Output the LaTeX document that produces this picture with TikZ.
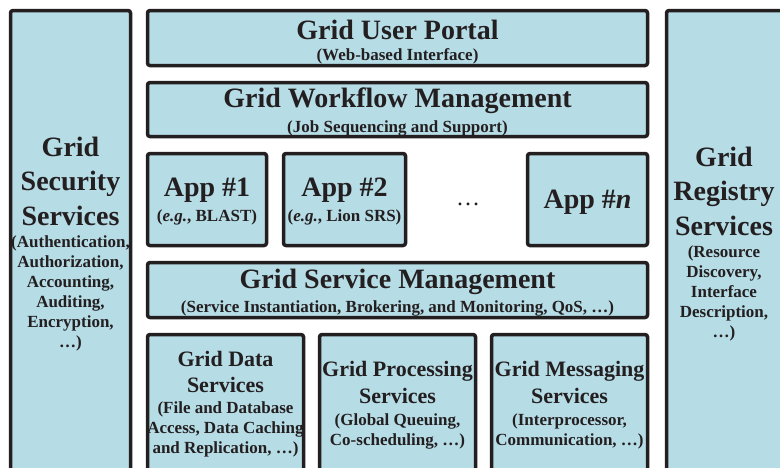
\documentclass[tikz,border=0pt]{standalone}
\usepackage{fontspec}
\setmainfont{Liberation Serif}
\definecolor{boxfill}{HTML}{B6DCE6}
\definecolor{ink}{HTML}{231F20}
\begin{document}
\begin{tikzpicture}[x=1pt,y=-1pt,
  layer/.style={draw=ink, fill=boxfill, line width=3.5pt, rounded corners=2.5pt,
                inner sep=0pt, rectangle},
  bigtitle/.style={text=ink, align=center, inner sep=0pt,
                   font=\bfseries\fontsize{28}{34.5}\selectfont},
  midtitle/.style={text=ink, align=center, inner sep=0pt,
                   font=\bfseries\fontsize{22}{26.5}\selectfont},
  subtext/.style={text=ink, align=center, inner sep=0pt,
                  font=\bfseries\fontsize{17}{20}\selectfont}]
\useasboundingbox (0,0) rectangle (780,467);
\clip (0,0) rectangle (780,467);

% side columns (run off the bottom / right edge)
\node[layer, minimum width=120, minimum height=509.5] (security) at (70.5,265.25) {};
\node[layer, minimum width=120, minimum height=509.5] (registry) at (726.5,265.25) {};

% central stack
\node[layer, minimum width=500, minimum height=55] (portal) at (397.5,38) {};
\node[layer, minimum width=500, minimum height=54] (workflow) at (397.5,109.5) {};
\node[layer, minimum width=119, minimum height=92] (app1) at (207,199.5) {};
\node[layer, minimum width=122, minimum height=92] (app2) at (344.5,199.5) {};
\node[layer, minimum width=120, minimum height=92] (appn) at (587.5,199.5) {};
\node[layer, minimum width=500, minimum height=55] (servmgmt) at (397.5,290) {};
\node[layer, minimum width=156, minimum height=185.5] (data) at (225.5,427.25) {};
\node[layer, minimum width=156, minimum height=185.5] (proc) at (397.5,427.25) {};
\node[layer, minimum width=156, minimum height=185.5] (msg) at (569.5,427.25) {};

% labels
\node[bigtitle] (securityT) at (70.5,181) {Grid\\Security\\Services};
\node[subtext] (securityS) at (70.5,293) {(Authentication,\\Authorization,\\Accounting,\\Auditing,\\Encryption,\\…)};

\node[bigtitle] (registryT) at (724,191) {Grid\\Registry\\Services};
\node[subtext] (registryS) at (724,293) {(Resource\\Discovery,\\Interface\\Description,\\…)};

\node[bigtitle] (portalT) at (397.5,30) {Grid User Portal};
\node[subtext] (portalS) at (397.5,56) {(Web-based Interface)};

\node[bigtitle] (workflowT) at (397.5,101) {Grid Workflow Management};
\node[subtext] (workflowS) at (397.5,128) {(Job Sequencing and Support)};

\node[bigtitle] (app1T) at (207,190) {App \#1};
\node[subtext] (app1S) at (207,217) {(\textit{e.g.}, BLAST)};
\node[bigtitle] (app2T) at (344.5,190) {App \#2};
\node[subtext] (app2S) at (344.5,217) {(\textit{e.g.}, Lion SRS)};
\node[text=ink, inner sep=0pt, font=\fontsize{24}{24}\selectfont] (dots) at (468,204) {…};
\node[bigtitle] (appnT) at (587.5,202) {App \#\textit{n}};

\node[bigtitle] (servmgmtT) at (397.5,282) {Grid Service Management};
\node[subtext] (servmgmtS) at (397.5,308) {(Service Instantiation, Brokering, and Monitoring, QoS, …)};

\node[midtitle] (dataT) at (225.5,372) {Grid Data\\Services};
\node[subtext] (dataS) at (225.5,429) {(File and Database\\Access, Data Caching\\and Replication, …)};

\node[midtitle] (procT) at (397.5,382.5) {Grid Processing\\Services};
\node[subtext] (procS) at (397.5,431) {(Global Queuing,\\Co-scheduling, …)};

\node[midtitle] (msgT) at (569.5,382.5) {Grid Messaging\\Services};
\node[subtext] (msgS) at (569.5,431) {(Interprocessor,\\Communication, …)};
\end{tikzpicture}
\end{document}
